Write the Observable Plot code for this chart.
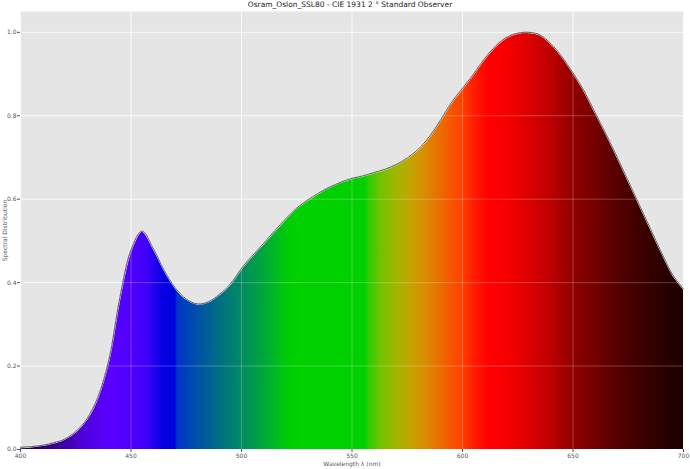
<!DOCTYPE html>
<html>
<head>
<meta charset="utf-8">
<script src="https://cdn.jsdelivr.net/npm/d3@7"></script>
<script src="https://cdn.jsdelivr.net/npm/@observablehq/plot@0.6"></script>
<style>
  html, body { margin: 0; padding: 0; background: #fff; }
  #title { height: 11px; line-height: 12px; font: 7.5px "DejaVu Sans", sans-serif; color: #222; text-align: center; width: 690px; padding-left: 10px; box-sizing: border-box; }
</style>
</head>
<body>
<div id="title">Osram_Oslon_SSL80 - CIE 1931 2 ° Standard Observer</div>
<div id="chart"></div>
<script>
const wavelengths = [400,405,410,415,420,425,430,435,440,445,450,455,460,465,470,475,480,485,490,495,
  500,505,510,515,520,525,530,535,540,545,550,555,560,565,570,575,580,585,590,595,
  600,605,610,615,620,625,630,635,640,645,650,655,660,665,670,675,680,685,690,695,700];
const values = [0.005,0.007,0.010,0.016,0.025,0.043,0.073,0.125,0.215,0.365,0.478,0.524,0.483,0.430,0.388,0.361,0.349,0.354,0.372,0.397,
  0.434,0.465,0.494,0.524,0.553,0.579,0.598,0.615,0.629,0.641,0.650,0.656,0.664,0.672,0.683,0.699,0.720,0.750,0.789,0.832,
  0.866,0.900,0.937,0.967,0.988,0.998,1.000,0.994,0.973,0.942,0.903,0.860,0.808,0.756,0.701,0.644,0.587,0.530,0.473,0.420,0.385];

// Colours of the spectrum gradient (wavelength -> colour)
const stopWl =    [400,      410,      420,      430,      440,      450,      458,      464,      470,      471,      480,      490,      500,      510,      518,      523,      556,      558,      563,      570,      576,      582,      588,      594,      600,      606,      612,      620,      630,      640,      650,      660,      670,      680,      690,      700];
const stopColor = ["#1c0038","#2c0070","#3e00a8","#5200e0","#5a00ff","#5000ff","#3c00f8","#0800e4","#0000dc","#0034c8","#0050a8","#006e84","#008a62","#00a63c","#00c214","#00d000","#00d000","#30cc00","#70c200","#a0b600","#c0a600","#d69000","#e67600","#f45a00","#ff4000","#ff1a00","#ff0000","#f80000","#dc0000","#bc0000","#920000","#740000","#560000","#400000","#2c0000","#1c0000"];

const xTicks = [400,450,500,550,600,650,700];
const yTicks = [0,0.2,0.4,0.6,0.8,1.0];

const data = wavelengths.map((w,i) => ({w, v: values[i]}));

const font = "DejaVu Sans, sans-serif";
const curve = "catmull-rom";
const plot = Plot.plot({
  width: 690,
  height: 458,
  marginTop: 0,
  marginLeft: 20,
  marginRight: 7,
  marginBottom: 20,
  style: {fontFamily: font, fontSize: "6px", color: "#555", background: "#fff"},
  x: {domain: [400, 700]},
  y: {domain: [0, 1.05]},
  marks: [
    Plot.frame({fill: "#e5e5e5", stroke: null}),
    Plot.gridX(xTicks, {stroke: "#fff", strokeOpacity: 1, strokeWidth: 0.7}),
    Plot.gridY(yTicks, {stroke: "#fff", strokeOpacity: 1, strokeWidth: 0.7}),
    Plot.areaY(data, {x: "w", y: "v", fill: "url(#spectrum)", curve}),
    Plot.gridX(xTicks, {stroke: "#fff", strokeOpacity: 0.35, strokeWidth: 0.7}),
    Plot.gridY(yTicks, {stroke: "#fff", strokeOpacity: 0.35, strokeWidth: 0.7}),
    Plot.lineY(data, {x: "w", y: "v", stroke: "#fff", strokeWidth: 1.6, curve}),
    Plot.lineY(data, {x: "w", y: "v", stroke: "#111", strokeWidth: 0.7, curve}),
    Plot.axisX({ticks: xTicks, tickSize: 3, tickPadding: 1, tickFormat: d => String(d), stroke: "#555", fill: "#555",
      label: "Wavelength λ (nm)", labelAnchor: "center", labelArrow: "none", labelOffset: 16, fontSize: 6}),
    Plot.axisY({ticks: yTicks, tickSize: 3, tickPadding: 1, tickFormat: d3.format(".1f"), stroke: "#555", fill: "#555",
      label: "Spectral Distribution", labelAnchor: "center", labelArrow: "none", labelOffset: 18, fontSize: 6})
  ]
});

// gradient definition built from the stop arrays, aligned to the x scale
const xs = plot.scale("x");
const x0 = xs.apply(400), x1 = xs.apply(700);
const svg = d3.select(plot);
const grad = svg.insert("defs", ":first-child").append("linearGradient")
  .attr("id", "spectrum").attr("gradientUnits", "userSpaceOnUse")
  .attr("x1", x0).attr("x2", x1).attr("y1", 0).attr("y2", 0);
stopWl.forEach((w, i) => {
  grad.append("stop").attr("offset", (xs.apply(w) - x0) / (x1 - x0)).attr("stop-color", stopColor[i]);
});

document.getElementById("chart").appendChild(plot);
</script>
</body>
</html>
